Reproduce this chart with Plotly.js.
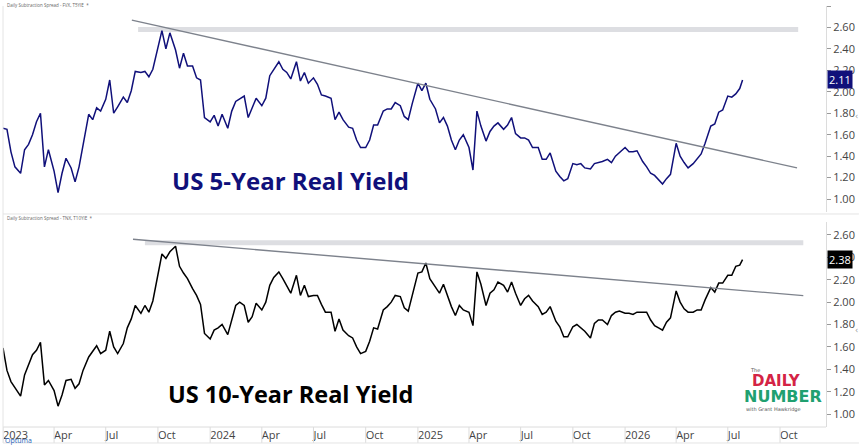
<!DOCTYPE html>
<html>
<head>
<meta charset="utf-8">
<script src="https://cdn.plot.ly/plotly-3.0.1.min.js"></script>
<style>
  html, body { margin: 0; padding: 0; background: #ffffff; }
  #chart { width: 860px; height: 446px; }
</style>
</head>
<body>
<div id="chart"></div>
<script>
// Observation dates shared by both panels
const dates = [
  "2023-01-01","2023-01-08","2023-01-15","2023-01-22","2023-02-01","2023-02-08","2023-02-15","2023-02-22",
  "2023-03-01","2023-03-08","2023-03-15","2023-03-22","2023-04-01","2023-04-08","2023-04-15","2023-04-22",
  "2023-05-01","2023-05-08","2023-05-15","2023-05-22","2023-06-01","2023-06-08","2023-06-15","2023-06-22",
  "2023-07-01","2023-07-08","2023-07-15","2023-07-22","2023-08-01","2023-08-08","2023-08-15","2023-08-22",
  "2023-09-01","2023-09-08","2023-09-15","2023-09-22","2023-10-01","2023-10-08","2023-10-15","2023-10-22",
  "2023-11-01","2023-11-08","2023-11-15","2023-11-22","2023-12-01","2023-12-08","2023-12-15","2023-12-22",
  "2024-01-01","2024-01-08","2024-01-15","2024-01-22","2024-02-01","2024-02-08","2024-02-15","2024-02-22",
  "2024-03-01","2024-03-08","2024-03-15","2024-03-22","2024-04-01","2024-04-08","2024-04-15","2024-04-22",
  "2024-05-01","2024-05-08","2024-05-15","2024-05-22","2024-06-01","2024-06-08","2024-06-15","2024-06-22",
  "2024-07-01","2024-07-08","2024-07-15","2024-07-22","2024-08-01","2024-08-08","2024-08-15","2024-08-22",
  "2024-09-01","2024-09-08","2024-09-15","2024-09-22","2024-10-01","2024-10-08","2024-10-15","2024-10-22",
  "2024-11-01","2024-11-08","2024-11-15","2024-11-22","2024-12-01","2024-12-08","2024-12-15","2024-12-22",
  "2025-01-01","2025-01-08","2025-01-15","2025-01-22","2025-02-01","2025-02-08","2025-02-15","2025-02-22",
  "2025-03-01","2025-03-08","2025-03-15","2025-03-22","2025-04-01","2025-04-08","2025-04-15","2025-04-22",
  "2025-05-01","2025-05-08","2025-05-15","2025-05-22","2025-06-01","2025-06-08","2025-06-15","2025-06-22",
  "2025-07-01","2025-07-08","2025-07-15","2025-07-22","2025-08-01","2025-08-08","2025-08-15","2025-08-22",
  "2025-09-01","2025-09-08","2025-09-15","2025-09-22","2025-10-01","2025-10-08","2025-10-15","2025-10-22",
  "2025-11-01","2025-11-08","2025-11-15","2025-11-22","2025-12-01","2025-12-08","2025-12-15","2025-12-22",
  "2026-01-01","2026-01-08","2026-01-15","2026-01-22","2026-02-01","2026-02-08","2026-02-15","2026-02-22",
  "2026-03-01","2026-03-08","2026-03-15","2026-03-22","2026-04-01","2026-04-08","2026-04-15","2026-04-22",
  "2026-05-01","2026-05-08","2026-05-15","2026-05-22","2026-06-01","2026-06-08","2026-06-15","2026-06-22",
  "2026-07-01","2026-07-08","2026-07-15","2026-07-22","2026-07-27"
];

// US 5-Year real yield (FVX minus T5YIE), %
const fiveYear = [
  1.66,1.65,1.44,1.30, 1.24,1.46,1.51,1.60, 1.72,1.80,1.30,1.46, 1.26,1.06,1.24,1.38,
  1.29,1.16,1.30,1.49, 1.79,1.74,1.85,1.82, 1.93,2.11,1.80,1.86, 1.95,1.90,2.01,2.19,
  2.18,2.19,2.14,2.21, 2.41,2.57,2.40,2.55, 2.39,2.22,2.36,2.24, 2.24,2.13,2.11,1.76,
  1.72,1.78,1.68,1.79, 1.66,1.82,1.91,1.93, 1.96,1.76,1.85,1.94, 1.87,1.94,2.15,2.21,
  2.28,2.21,2.18,2.12, 2.28,2.10,2.18,2.08, 2.13,2.07,1.97,1.96, 1.94,1.74,1.81,1.74,
  1.67,1.66,1.55,1.48, 1.48,1.55,1.69,1.69, 1.82,1.84,1.84,1.90, 1.87,1.77,1.74,1.89,
  2.08,2.01,2.08,1.93, 1.84,1.71,1.76,1.68, 1.55,1.46,1.55,1.60, 1.48,1.27,1.82,1.68,
  1.54,1.63,1.68,1.71, 1.65,1.69,1.76,1.61, 1.57,1.57,1.55,1.48, 1.48,1.37,1.37,1.43,
  1.26,1.21,1.17,1.19, 1.33,1.32,1.33,1.29, 1.28,1.33,1.34,1.35, 1.37,1.34,1.40,1.43,
  1.48,1.44,1.44,1.45, 1.35,1.30,1.24,1.22, 1.18,1.14,1.19,1.23, 1.52,1.40,1.34,1.29,
  1.33,1.37,1.42,1.52, 1.68,1.70,1.81,1.83, 1.96,1.95,1.98,2.03,2.11
];

// US 10-Year real yield (TNX minus T10YIE), %
const tenYear = [
  1.59,1.39,1.29,1.24, 1.16,1.35,1.44,1.53, 1.57,1.64,1.26,1.30, 1.21,1.07,1.17,1.30,
  1.31,1.23,1.27,1.39, 1.51,1.56,1.61,1.54, 1.57,1.74,1.60,1.54, 1.63,1.77,1.85,1.97,
  1.90,1.97,1.91,2.01, 2.25,2.43,2.39,2.45, 2.50,2.32,2.26,2.21, 2.12,2.06,1.98,1.72,
  1.67,1.75,1.77,1.80, 1.71,1.84,1.97,2.00, 1.97,1.82,1.87,1.99, 1.93,2.00,2.15,2.22,
  2.27,2.21,2.14,2.08, 2.24,2.06,2.15,2.05, 2.06,2.06,1.98,1.91, 1.91,1.74,1.85,1.75,
  1.70,1.68,1.60,1.54, 1.56,1.65,1.77,1.76, 1.93,1.96,2.00,2.06, 2.05,1.95,1.92,2.06,
  2.26,2.27,2.35,2.21, 2.14,2.08,2.16,2.05, 1.96,1.88,1.97,1.93, 1.91,1.79,2.27,2.16,
  1.97,2.08,2.11,2.18, 2.15,2.09,2.18,2.08, 1.97,2.03,2.06,2.01, 1.96,1.89,1.91,1.96,
  1.83,1.78,1.69,1.69, 1.78,1.80,1.77,1.74, 1.68,1.81,1.84,1.84, 1.80,1.88,1.91,1.92,
  1.90,1.90,1.89,1.91, 1.91,1.91,1.84,1.79, 1.77,1.75,1.82,1.86, 2.10,2.00,1.94,1.91,
  1.91,1.93,1.93,2.02, 2.13,2.09,2.17,2.17, 2.24,2.24,2.32,2.33,2.38
];

// Date axis ticks
const tickDates = [
  "2023-01-01","2023-04-01","2023-07-01","2023-10-01",
  "2024-01-01","2024-04-01","2024-07-01","2024-10-01",
  "2025-01-01","2025-04-01","2025-07-01","2025-10-01",
  "2026-01-01","2026-04-01","2026-07-01","2026-10-01"
];
const tickText = [
  "2023","Apr","Jul","Oct","2024","Apr","Jul","Oct",
  "2025","Apr","Jul","Oct","2026","Apr","Jul","Oct"
];
const xRange = ["2023-01-01","2026-12-21"];

// Descending resistance lines and prior-high bands
const fiveTrendDates = ["2023-08-16","2026-10-31"];
const fiveTrendValues = [2.668, 1.29];
const fiveBandDates = ["2023-08-27","2026-11-02"];
const fiveBandValues = [2.58, 2.58];
const tenTrendDates = ["2023-08-18","2026-11-11"];
const tenTrendValues = [2.562, 2.058];
const tenBandDates = ["2023-09-08","2026-11-11"];
const tenBandValues = [2.53, 2.53];

const NAVY = "#10107a";
const BAND = "#dddee2";
const TREND = "#7d828c";
const AXIS_FONT = { family: "Open Sans, sans-serif", size: 11, color: "#444" };

const traces = [
  { x: fiveBandDates, y: fiveBandValues, xaxis: "x", yaxis: "y", mode: "lines",
    line: { color: BAND, width: 5 }, hoverinfo: "skip" },
  { x: tenBandDates, y: tenBandValues, xaxis: "x2", yaxis: "y2", mode: "lines",
    line: { color: BAND, width: 5 }, hoverinfo: "skip" },
  { x: dates, y: fiveYear, xaxis: "x", yaxis: "y", mode: "lines", name: "US 5-Year Real Yield",
    line: { color: NAVY, width: 1.5 } },
  { x: dates, y: tenYear, xaxis: "x2", yaxis: "y2", mode: "lines", name: "US 10-Year Real Yield",
    line: { color: "#000000", width: 1.5 } },
  { x: fiveTrendDates, y: fiveTrendValues, xaxis: "x", yaxis: "y", mode: "lines",
    line: { color: TREND, width: 1.4 }, hoverinfo: "skip" },
  { x: tenTrendDates, y: tenTrendValues, xaxis: "x2", yaxis: "y2", mode: "lines",
    line: { color: TREND, width: 1.4 }, hoverinfo: "skip" }
];

// Separators between the date labels
const BAND_LOW = -0.038;
const shapes = tickDates.map(d => ({
  type: "line", xref: "x2", yref: "paper", x0: d, x1: d, y0: 0, y1: BAND_LOW,
  line: { color: "#dcdcdc", width: 1 }
}));
shapes.push(
  { type: "line", xref: "paper", yref: "paper", x0: 0, x1: 1, y0: 0, y1: 0, line: { color: "#dcdcdc", width: 1 } },
  { type: "line", xref: "paper", yref: "paper", x0: 0, x1: 1.04, y0: BAND_LOW, y1: BAND_LOW, line: { color: "#e4e4e4", width: 1 } },
  { type: "line", xref: "paper", yref: "paper", x0: 0, x1: 1.04, y0: 0.506, y1: 0.506, line: { color: "#e4e4e4", width: 1 } },
  { type: "line", xref: "paper", yref: "paper", x0: 0, x1: 0, y0: BAND_LOW, y1: 1, line: { color: "#e4e4e4", width: 1 } }
);

const lastFive = fiveYear[fiveYear.length - 1];
const lastTen = tenYear[tenYear.length - 1];

const annotations = [
  { text: "<b>US 5-Year Real Yield</b>", xref: "paper", yref: "paper", x: 0.203, y: 0.586,
    xanchor: "left", yanchor: "middle", showarrow: false,
    font: { family: "Open Sans, sans-serif", size: 24, color: NAVY } },
  { text: "<b>US 10-Year Real Yield</b>", xref: "paper", yref: "paper", x: 0.198, y: 0.079,
    xanchor: "left", yanchor: "middle", showarrow: false,
    font: { family: "Open Sans, sans-serif", size: 23.5, color: "#000" } },
  { text: lastFive.toFixed(2), xref: "paper", yref: "y", x: 1, y: lastFive, xanchor: "left", xshift: 1,
    showarrow: false, bgcolor: NAVY, borderpad: 1,
    font: { family: "Open Sans, sans-serif", size: 11, color: "#fff" } },
  { text: lastTen.toFixed(2), xref: "paper", yref: "y2", x: 1, y: lastTen, xanchor: "left", xshift: 1,
    showarrow: false, bgcolor: "#000", borderpad: 1,
    font: { family: "Open Sans, sans-serif", size: 11, color: "#fff" } },
  { text: "Daily Subtraction Spread - FVX, T5YIE  *", xref: "paper", yref: "paper", x: 0.003, y: 1.002,
    xanchor: "left", yanchor: "middle", showarrow: false,
    font: { family: "Open Sans, sans-serif", size: 4.5, color: "#666" } },
  { text: "Daily Subtraction Spread - TNX, T10YIE  *", xref: "paper", yref: "paper", x: 0.003, y: 0.497,
    xanchor: "left", yanchor: "middle", showarrow: false,
    font: { family: "Open Sans, sans-serif", size: 4.5, color: "#666" } },
  { text: "The", xref: "paper", yref: "paper", x: 0.905, y: 0.135, xanchor: "left", yanchor: "middle",
    showarrow: false, font: { family: "DejaVu Sans, sans-serif", size: 5, color: "#555" } },
  { text: "<b>DAILY</b>", xref: "paper", yref: "paper", x: 0.94, y: 0.109, xanchor: "center", yanchor: "middle",
    showarrow: false, font: { family: "DejaVu Sans, sans-serif", size: 15, color: "#d42345" } },
  { text: "<b>NUMBER</b>", xref: "paper", yref: "paper", x: 0.948, y: 0.073, xanchor: "center", yanchor: "middle",
    showarrow: false, font: { family: "DejaVu Sans, sans-serif", size: 16, color: "#20a070" } },
  { text: "with Grant Hawkridge", xref: "paper", yref: "paper", x: 0.9, y: 0.042, xanchor: "left", yanchor: "middle",
    showarrow: false, font: { family: "DejaVu Sans, sans-serif", size: 5, color: "#555" } },
  { text: "Optuma", xref: "paper", yref: "paper", x: 0.0, y: -0.031, xanchor: "left", yanchor: "middle",
    showarrow: false, font: { family: "Open Sans, sans-serif", size: 7, color: "#1e5fb8" } },
  { text: "‹", xref: "paper", yref: "paper", x: 1.037, y: 0.738, xanchor: "center", yanchor: "middle",
    showarrow: false, font: { family: "DejaVu Sans, sans-serif", size: 8, color: "#999" } },
  { text: "‹", xref: "paper", yref: "paper", x: 1.037, y: 0.23, xanchor: "center", yanchor: "middle",
    showarrow: false, font: { family: "DejaVu Sans, sans-serif", size: 8, color: "#999" } }
];

const yCommon = {
  side: "right", dtick: 0.2, tick0: 1, tickformat: ".2f",
  ticks: "outside", ticklen: 4, tickcolor: "#999", tickwidth: 1,
  showgrid: false, zeroline: false, showline: true, linecolor: "#dcdcdc", linewidth: 1,
  tickfont: AXIS_FONT, fixedrange: true
};

const layout = {
  width: 860, height: 446,
  margin: { l: 3, r: 34, t: 6, b: 19, pad: 0 },
  paper_bgcolor: "#ffffff", plot_bgcolor: "#ffffff",
  showlegend: false,
  xaxis: { type: "date", range: xRange, anchor: "y", matches: "x2", showticklabels: false,
    ticks: "", showgrid: false, zeroline: false, showline: false },
  xaxis2: { type: "date", range: xRange, anchor: "y2", tickmode: "array", tickvals: tickDates, ticktext: tickText,
    ticklabelposition: "outside right", ticks: "", showgrid: false, zeroline: false, showline: false,
    tickfont: AXIS_FONT },
  yaxis: Object.assign({ domain: [0.5107, 1], range: [0.879, 2.80], anchor: "x" }, yCommon),
  yaxis2: Object.assign({ domain: [0, 0.4869], range: [0.884, 2.716], anchor: "x2" }, yCommon),
  shapes: shapes,
  annotations: annotations
};

Plotly.newPlot("chart", traces, layout, { displayModeBar: false, staticPlot: true });
</script>
</body>
</html>
